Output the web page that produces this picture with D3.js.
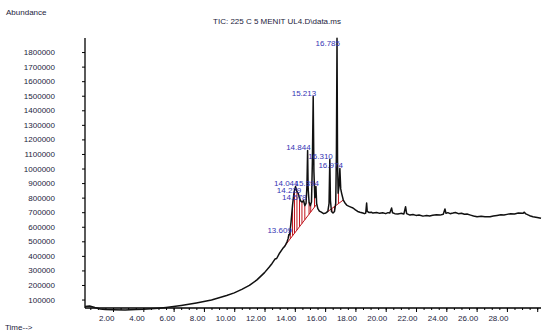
<!DOCTYPE html>
<html>
<head>
<meta charset="utf-8">
<script src="https://cdn.jsdelivr.net/npm/d3@7"></script>
<style>
  body { margin: 0; background: #fff; }
  svg { display: block; }
</style>
</head>
<body>
<svg width="545" height="331"></svg>
<script>
// TIC trace, time (min) and abundance
const traceTimes = [
  0.15, 0.45, 0.80, 1.15, 1.50, 2.00, 2.80, 3.50, 4.00, 4.50, 5.00, 5.50, 6.00, 6.50, 7.00, 7.50,
  8.00, 8.50, 9.00, 9.50, 10.00, 10.50, 11.00, 11.50, 12.00, 12.30, 12.50, 12.69, 12.80, 13.00,
  13.20, 13.35, 13.50, 13.56, 13.609, 13.66, 13.75, 13.85, 13.95, 14.044, 14.13, 14.229, 14.31,
  14.40, 14.49, 14.578, 14.66, 14.74, 14.80, 14.844, 14.88, 14.94, 15.02, 15.10, 15.16, 15.213,
  15.26, 15.32, 15.394, 15.44, 15.52, 15.62, 15.75, 15.90, 16.05, 16.18, 16.26, 16.310, 16.35,
  16.42, 16.52, 16.62, 16.70, 16.745, 16.785, 16.82, 16.86, 16.92, 16.974, 17.03, 17.09, 17.20,
  17.30, 17.42, 17.55, 17.70, 17.84, 18.00, 18.15, 18.30, 18.49, 18.60, 18.68, 18.74, 18.78,
  18.90, 19.05, 19.15, 19.40, 19.60, 19.80, 20.00, 20.15, 20.27, 20.39, 20.45, 20.60, 20.80,
  21.00, 21.20, 21.31, 21.38, 21.60, 21.80, 22.00, 22.20, 22.46, 22.70, 22.90, 23.10, 23.35,
  23.58, 23.80, 23.91, 23.98, 24.10, 24.25, 24.44, 24.60, 24.80, 25.00, 25.20, 25.37, 25.60,
  25.80, 26.03, 26.30, 26.55, 26.89, 27.10, 27.35, 27.60, 27.80, 28.01, 28.25, 28.50, 28.75,
  29.06, 29.15, 29.25, 29.50, 29.72, 30.00, 30.25
];
const traceAbundance = [
  52000, 56000, 45000, 35000, 31000, 30000, 29000, 31000, 33000, 37000, 41000, 46000, 52000, 59000, 67000, 76000,
  86000, 97000, 112000, 128000, 146000, 170000, 197000, 235000, 285000, 322000, 348000, 378000, 382000, 420000,
  450000, 468000, 500000, 520000, 547000, 545000, 632000, 749000, 838000, 876000, 845000, 828000, 795000,
  775000, 770000, 780000, 745000, 760000, 880000, 1123600, 860000, 770000, 745000, 770000, 1050000, 1494000,
  980000, 800000, 876000, 760000, 725000, 708000, 700000, 690000, 695000, 705000, 760000, 1061800, 780000,
  705000, 695000, 705000, 760000, 1100000, 1894000, 1050000, 830000, 880000, 1000000, 860000, 829700, 783600,
  765000, 749000, 742000, 735000, 728700, 716000, 705000, 700000, 694300, 690000, 694000, 763000, 705000,
  698000, 700000, 694000, 698000, 692000, 696000, 690000, 697000, 694000, 728700, 696000, 690000, 687000,
  692000, 688000, 737600, 690000, 680000, 684000, 678000, 681000, 673000, 677000, 674000, 679000, 683000,
  680000, 686000, 721800, 692000, 697000, 690000, 694000, 698000, 690000, 693000, 686000, 687000, 680000,
  674000, 669000, 672000, 668000, 669000, 674000, 678000, 682000, 680000, 685000, 690000, 688000, 694000,
  692000, 700000, 688000, 676000, 669000, 664000, 658000
];

// labelled peaks
const peakTimes = [13.609, 14.044, 14.229, 14.578, 14.844, 15.213, 15.394, 16.310, 16.785, 16.974];
const peakLabels = ["13.609", "14.044", "14.229", "14.578", "14.844", "15.213", "15.394", "16.310", "16.785", "16.974"];

// integration baselines and drop lines
const baselineStart = [13.25, 16.15];
const baselineEnd = [15.45, 17.20];
const dropTimes = [13.70, 13.85, 13.98, 14.14, 14.31, 14.47, 14.66, 14.94, 15.05, 15.30, 16.45, 16.62, 16.88];

const yTicks = [100000, 200000, 300000, 400000, 500000, 600000, 700000, 800000, 900000,
  1000000, 1100000, 1200000, 1300000, 1400000, 1500000, 1600000, 1700000, 1800000];
const xTickLabels = [2, 4, 6, 8, 10, 12, 14, 16, 18, 20, 22, 24, 26, 28];

const font = 'Liberation Sans, Arial, sans-serif';
const axisY = 308;

const x = d3.scaleLinear().domain([0.15, 30.25]).range([85, 541]);
const y = d3.scaleLinear().domain([0, 1900000]).range([314.1, 37.5]);

const svg = d3.select('svg');

// interpolate the trace at time t
const bis = d3.bisector(d => d).left;
function traceAt(t) {
  const i = Math.max(1, Math.min(traceTimes.length - 1, bis(traceTimes, t)));
  const t0 = traceTimes[i - 1], t1 = traceTimes[i];
  const k = (t - t0) / (t1 - t0);
  return traceAbundance[i - 1] + k * (traceAbundance[i] - traceAbundance[i - 1]);
}

svg.append('text')
    .attr('x', 6).attr('y', 15)
    .attr('font-family', font).attr('font-size', 8).attr('fill', '#1c1c3c')
    .text('Abundance');

svg.append('text')
    .attr('x', 277).attr('y', 24)
    .attr('text-anchor', 'middle')
    .attr('font-family', font).attr('font-size', 8).attr('fill', '#1c1c3c')
    .text('TIC: 225 C 5 MENIT UL4.D\\data.ms');

svg.append('text')
    .attr('x', 5).attr('y', 330)
    .attr('font-family', font).attr('font-size', 8).attr('fill', '#1c1c3c')
    .text('Time-->');

// y axis
const yAxis = svg.append('g')
    .attr('transform', 'translate(85,0)')
    .call(d3.axisLeft(y).tickValues(yTicks).tickSize(3).tickPadding(27).tickFormat(d3.format('d')))
    .call(g => g.select('.domain').remove());
yAxis.selectAll('text').attr('font-family', font).attr('font-size', 8).attr('fill', '#1c1c3c');
yAxis.selectAll('line').attr('stroke', '#000');
svg.append('line')
    .attr('x1', 85).attr('x2', 85).attr('y1', 38).attr('y2', axisY)
    .attr('stroke', '#000').attr('stroke-width', 1.3);

// x axis: minor ticks every 0.5 min, major every 2 min
svg.append('g')
    .attr('transform', `translate(0,${axisY})`)
    .call(d3.axisBottom(x).tickValues(d3.range(0.5, 30.5, 0.5)).tickSize(2).tickFormat(''))
    .call(g => g.select('.domain').remove())
    .selectAll('line').attr('stroke', '#000');
const xAxis = svg.append('g')
    .attr('transform', `translate(0,${axisY})`)
    .call(d3.axisBottom(x).tickValues(d3.range(2, 31, 2)).tickSize(4).tickPadding(3)
      .tickFormat(d => xTickLabels.includes(d) ? d3.format('.2f')(d) : ''))
    .call(g => g.select('.domain').remove());
xAxis.selectAll('line').attr('stroke', '#000');
xAxis.selectAll('text')
    .attr('text-anchor', 'end').attr('dx', 1)
    .attr('font-family', font).attr('font-size', 8).attr('fill', '#1c1c3c');
svg.append('line')
    .attr('x1', 85).attr('x2', 541).attr('y1', axisY).attr('y2', axisY)
    .attr('stroke', '#000').attr('stroke-width', 1.3);

// integration (red)
const red = svg.append('g').attr('stroke', '#c0141c').attr('stroke-width', 1).attr('fill', 'none');
baselineStart.forEach((s, i) => {
  const e = baselineEnd[i];
  red.append('line')
      .attr('x1', x(s)).attr('y1', y(traceAt(s)))
      .attr('x2', x(e)).attr('y2', y(traceAt(e)));
  dropTimes.filter(t => t > s && t < e).forEach(t => {
    const b = traceAt(s) + (t - s) / (e - s) * (traceAt(e) - traceAt(s));
    red.append('line')
        .attr('x1', x(t)).attr('x2', x(t))
        .attr('y1', y(b)).attr('y2', y(traceAt(t)));
  });
});

// trace
const line = d3.line().x(d => x(d[0])).y(d => y(d[1]));
svg.append('path')
    .datum(traceTimes.map((t, i) => [t, traceAbundance[i]]))
    .attr('d', line)
    .attr('fill', 'none')
    .attr('stroke', '#111')
    .attr('stroke-width', 1.5)
    .attr('stroke-linejoin', 'round');

// peak labels
svg.append('g')
    .attr('font-family', font).attr('font-size', 8).attr('fill', '#3434b4')
    .attr('text-anchor', 'end')
    .selectAll('text')
    .data(peakTimes)
    .join('text')
    .attr('x', d => x(d) + 3)
    .attr('y', d => Math.max(y(traceAt(d)) - 1, 46))
    .text((d, i) => peakLabels[i]);
</script>
</body>
</html>
